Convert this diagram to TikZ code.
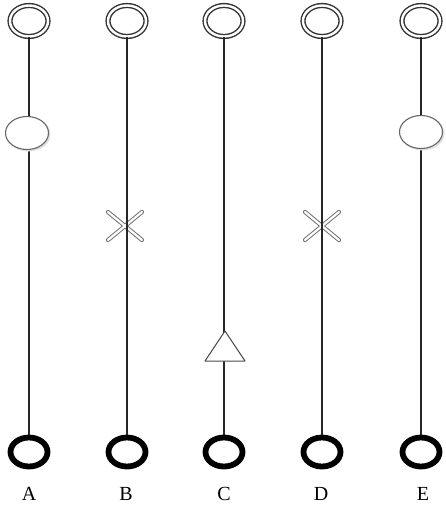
\documentclass[tikz,border=0pt]{standalone}
\usepackage{fontspec}
\setmainfont{Liberation Serif}
\usetikzlibrary{shapes.geometric,calc}
\begin{document}
\begin{tikzpicture}[x=1pt,y=-1pt,
  topring/.style={ellipse,draw=black!80,double=white,double distance=2.4pt,line width=1.4pt,minimum width=38pt,minimum height=31pt,inner sep=0pt},
  botring/.style={ellipse,draw=black,line width=5.8pt,minimum width=37pt,minimum height=29pt,inner sep=0pt},
  stem/.style={draw=black!85,line width=1.8pt},
  opencirc/.style={ellipse,draw=black!60,fill=white,line width=1.1pt,minimum width=43pt,minimum height=33pt,inner sep=0pt},
  shade/.style={ellipse,fill=black!12,minimum width=44pt,minimum height=34pt,inner sep=0pt},
  tri/.style={draw=black!70,fill=white,line width=1pt,line join=round},
  crossout/.style={draw=black!55,line width=4.2pt,line cap=round},
  crossin/.style={draw=white,line width=2.2pt,line cap=round},
  lab/.style={font=\fontsize{20}{22}\selectfont,inner sep=0pt}]
\useasboundingbox (0,0) rectangle (445,508);
\fill[white] (0,0) rectangle (445,508);
% columns
\foreach \n/\x in {A/29,B/127,C/224,D/322,E/421}{
  \node[topring] (t\n) at (\x,21) {};
  \node[botring] (b\n) at (\x,452) {};
  \draw[stem] (t\n) -- (b\n);
}
\node[lab] (lA) at (29,494) {A};
\node[lab] (lB) at (126,494) {B};
\node[lab] (lC) at (224,494) {C};
\node[lab] (lD) at (321,494) {D};
\node[lab] (lE) at (423,494) {E};
% markers
\node[shade] at (28.5,134.5) {};
\node[opencirc] (mA) at (27,133) {};
\node[shade] at (422.5,133.5) {};
\node[opencirc] (mE) at (421,132) {};
\coordinate (xB) at (125,226);
\coordinate (xD) at (322,226);
\foreach \c in {xB,xD}{
  \draw[crossout] ($(\c)+(-17,-14)$) -- ($(\c)+(17,14)$);
  \draw[crossout] ($(\c)+(-17,14)$) -- ($(\c)+(17,-14)$);
  \draw[crossin] ($(\c)+(-17,-14)$) -- ($(\c)+(17,14)$);
  \draw[crossin] ($(\c)+(-17,14)$) -- ($(\c)+(17,-14)$);
}
\draw[stem] ($(xB)+(2,-16)$) -- ($(xB)+(2,16)$);
\draw[stem] ($(xD)+(0,-16)$) -- ($(xD)+(0,16)$);
\coordinate (cTop) at (225,331);
\coordinate (cL) at (205,361);
\coordinate (cR) at (245,361);
\draw[tri] (cTop) -- (cL) -- (cR) -- cycle;
\end{tikzpicture}
\end{document}
